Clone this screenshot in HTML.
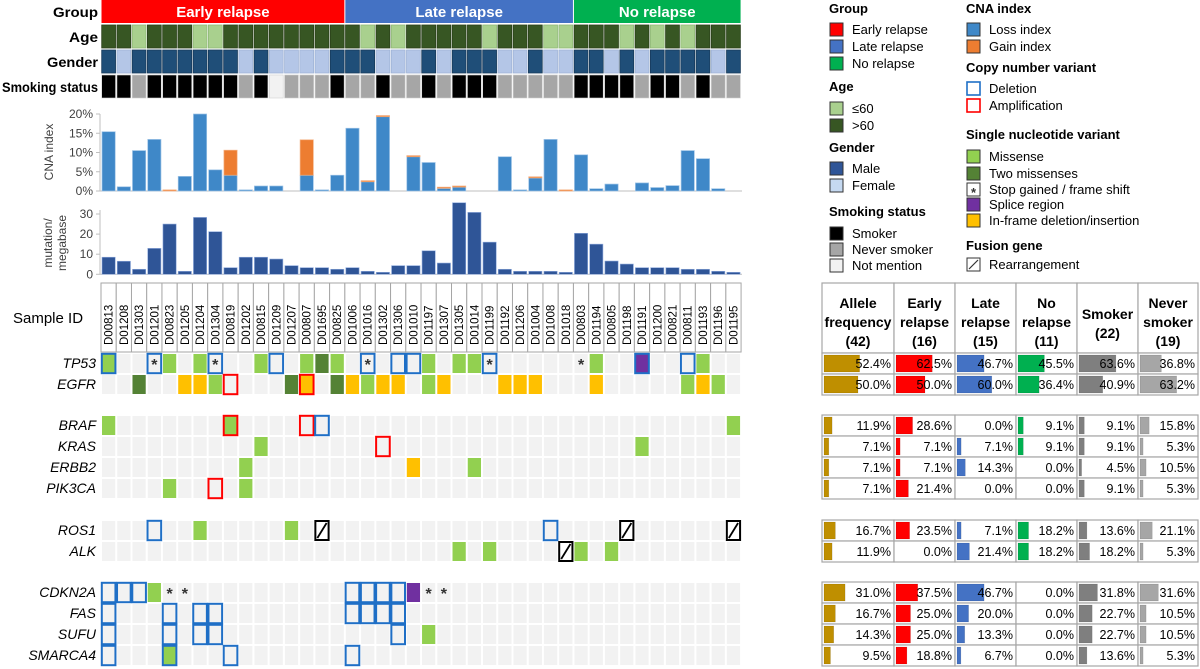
<!DOCTYPE html>
<html><head><meta charset="utf-8">
<style>
html,body{margin:0;padding:0;background:#fff;}
svg{display:block;font-family:"Liberation Sans",Calibri,sans-serif;}
</style></head>
<body>
<svg id="chart" width="1200" height="669" viewBox="0 0 1200 669" xmlns="http://www.w3.org/2000/svg"></svg>
<script>
const sampleIds = ["D00813","D01208","D01303","D01201","D00823","D01205","D01204","D01304","D00819","D01202","D00815","D01209","D01207","D00807","D01695","D00825","D01006","D01016","D01302","D01306","D01010","D01197","D01307","D01305","D01014","D01199","D01192","D01206","D01004","D01008","D01018","D00803","D01194","D00805","D01198","D01191","D01200","D00821","D00811","D01193","D01196","D01195"];
const groupNames = ["Early relapse","Late relapse","No relapse"];
const groupSizes = [16,15,11];
const ageOver60 = [1,1,0,1,1,1,0,0,1,1,1,1,1,1,1,1,1,0,1,0,1,1,1,1,1,0,1,1,1,0,0,1,1,1,0,1,0,1,0,1,1,1];
const genderMale = [1,0,1,1,1,1,1,1,1,0,1,0,0,0,0,1,1,1,0,0,0,1,0,1,1,1,0,0,1,0,0,1,1,0,1,0,1,1,1,1,0,1];
const smoking = ["S","S","N","S","S","S","S","S","S","N","S","X","N","N","N","S","N","N","S","N","N","S","N","S","S","S","N","N","N","N","N","S","S","S","S","N","S","S","N","S","N","N"];
const cnaLoss = [15.4,1.1,10.5,13.4,0,3.8,20,5.5,4.1,0.3,1.3,1.3,0,4.1,0.3,4.1,16.3,2.4,19.3,0,8.9,7.4,0.7,1.0,0,0,8.9,0.3,3.4,13.4,0,9.4,0.6,1.8,0,2.1,0.9,1.4,10.5,8.4,0.6,0];
const cnaGain = [0,0,0,0,0.3,0,0,0,6.5,0,0,0,0,9.2,0,0,0,0.3,0.3,0,0.3,0,0.3,0.3,0,0,0,0,0.3,0,0.3,0,0,0,0,0,0,0,0,0,0,0];
const mutPerMb = [8.5,6.5,2.5,12.9,25,1.5,28.3,21.2,3.3,8.5,8.5,7.6,4.3,3.3,3.3,2.5,3.3,1.5,1,4.3,4.3,11.7,5.6,35.6,30.8,16,2.5,1.5,1.5,1.5,1,20.4,15,6.6,5.1,3.3,3.3,3.3,2.5,2.5,1.5,1];
const cnaTicks = [0,5,10,15,20];
const mutTicks = [0,10,20,30];
const genes = ["TP53","EGFR","BRAF","KRAS","ERBB2","PIK3CA","ROS1","ALK","CDKN2A","FAS","SUFU","SMARCA4"];
const geneBlock = [0,0,1,1,1,1,2,2,3,3,3,3];
// m missense, d two missenses, i in-frame, s splice, x stop/frameshift, B deletion, R amplification, F rearrangement
const alterations = {
 TP53:{0:"mB",3:"xB",4:"m",6:"m",7:"xB",10:"m",11:"B",13:"m",14:"d",15:"m",17:"xB",19:"B",20:"B",21:"m",23:"m",24:"m",25:"xB",31:"x",32:"m",35:"sB",38:"B",39:"m"},
 EGFR:{2:"d",5:"i",6:"i",7:"m",8:"R",12:"d",13:"iR",15:"d",16:"i",17:"m",18:"i",19:"i",21:"m",22:"i",26:"i",27:"i",28:"i",32:"i",38:"m",39:"i",40:"m"},
 BRAF:{0:"m",8:"mR",13:"R",14:"B",41:"m"},
 KRAS:{10:"m",18:"R",35:"m"},
 ERBB2:{9:"m",20:"i",24:"m"},
 PIK3CA:{4:"m",7:"R",9:"m"},
 ROS1:{3:"B",6:"m",12:"m",14:"F",29:"B",34:"F",41:"F"},
 ALK:{23:"m",25:"m",30:"F",31:"m",33:"m"},
 CDKN2A:{0:"B",1:"B",2:"B",3:"m",4:"x",5:"x",16:"B",17:"B",18:"B",19:"B",20:"s",21:"x",22:"x"},
 FAS:{0:"B",4:"B",6:"B",7:"B",16:"B",17:"B",18:"B",19:"B"},
 SUFU:{0:"B",4:"B",6:"B",7:"B",19:"B",21:"m"},
 SMARCA4:{0:"B",4:"mB",8:"B",16:"B"}
};
const tableHeaders = [["Allele","frequency","(42)"],["Early","relapse","(16)"],["Late","relapse","(15)"],["No","relapse","(11)"],["Smoker","(22)"],["Never","smoker","(19)"]];
const freqAllele = [52.4,50.0,11.9,7.1,7.1,7.1,16.7,11.9,31.0,16.7,14.3,9.5];
const freqEarly = [62.5,50.0,28.6,7.1,7.1,21.4,23.5,0.0,37.5,25.0,25.0,18.8];
const freqLate = [46.7,60.0,0.0,7.1,14.3,0.0,7.1,21.4,46.7,20.0,13.3,6.7];
const freqNo = [45.5,36.4,9.1,9.1,0.0,0.0,18.2,18.2,0.0,0.0,0.0,0.0];
const freqSmoker = [63.6,40.9,9.1,9.1,4.5,9.1,13.6,18.2,31.8,22.7,22.7,13.6];
const freqNever = [36.8,63.2,15.8,5.3,10.5,5.3,21.1,5.3,31.6,10.5,10.5,5.3];

const NS="http://www.w3.org/2000/svg";
const svg=document.getElementById('chart');
function mk(tag,attrs,parent){const e=document.createElementNS(NS,tag);for(const k in attrs)e.setAttribute(k,attrs[k]);(parent||svg).appendChild(e);return e;}
function txt(s,attrs,parent){const e=mk('text',attrs,parent);e.textContent=s;return e;}

const X0=101, CW=15.24;
const colX=i=>X0+i*CW;
// ---- top annotation rows
const gColors=["#ff0000","#4472c4","#00b050"];
let start=0;
groupNames.forEach((g,gi)=>{
  const r=mk('rect',{x:colX(start)+0.5,y:0,width:groupSizes[gi]*CW-1,height:23,fill:gColors[gi]});
  
  
  const t=txt(g,{x:colX(start)+groupSizes[gi]*CW/2,y:17,'text-anchor':'middle','font-size':15,'font-weight':'bold',fill:'#fff'});
  
  
  start+=groupSizes[gi];
});
const rowLabels=[["Group",17,45],["Age",42,29],["Gender",67,51],["Smoking status",92,96]];
rowLabels.forEach(([l,y,w])=>{const t=txt(l,{x:98,y:y,'text-anchor':'end','font-size':13.5,'font-weight':'bold',fill:'#000',textLength:w,lengthAdjust:'spacingAndGlyphs'});
  
  });
const smokeC={S:"#000000",N:"#a6a6a6",X:"#f2f2f2"};
sampleIds.forEach((s,i)=>{
  const a=mk('rect',{x:colX(i)+0.7,y:25,width:CW-1.4,height:23,fill:ageOver60[i]?"#375623":"#a9d08e",stroke:ageOver60[i]?"#2a4019":"#8fb877","stroke-width":0.8});
  
  
  const g=mk('rect',{x:colX(i)+0.7,y:50,width:CW-1.4,height:23,fill:genderMale[i]?"#1f4e78":"#b4c6e7",stroke:genderMale[i]?"#173a5a":"#9fb3d6","stroke-width":0.8});
  
  
  const sm=mk('rect',{x:colX(i)+0.7,y:75,width:CW-1.4,height:23,fill:smokeC[smoking[i]],stroke:"#d0d0d0","stroke-width":0.6});
  
  
});
// ---- CNA chart
const cnaY=v=>191-v*3.85;
mk('line',{x1:100,y1:cnaY(0),x2:100,y2:cnaY(20),stroke:'#bfbfbf'});
cnaTicks.forEach(t=>{
  mk('line',{x1:96,y1:cnaY(t),x2:100,y2:cnaY(t),stroke:'#bfbfbf'});
  const e=txt(t+"%",{x:93,y:cnaY(t)+4,'text-anchor':'end','font-size':12,fill:'#404040'});
  
  
});
mk('line',{x1:100,y1:cnaY(0),x2:742,y2:cnaY(0),stroke:'#bfbfbf'});
const ct=txt("CNA index",{x:0,y:0,transform:"translate(53,152) rotate(-90)",'text-anchor':'middle','font-size':12,fill:'#404040'});


sampleIds.forEach((s,i)=>{
  if(cnaLoss[i]>0){const b=mk('rect',{x:colX(i)+1,y:cnaY(cnaLoss[i]),width:CW-2,height:cnaLoss[i]*3.85,fill:"#3f88c8",stroke:"#9dc3e6","stroke-width":0.7});
    
    }
  if(cnaGain[i]>0){const b=mk('rect',{x:colX(i)+1,y:cnaY(cnaLoss[i]+cnaGain[i]),width:CW-2,height:cnaGain[i]*3.85,fill:"#ed7d31",stroke:"#f4b183","stroke-width":0.7});
    
    }
});
// ---- mutation burden chart
const mY=v=>274.3-v*2.01;
mk('line',{x1:100,y1:mY(0),x2:100,y2:mY(32),stroke:'#bfbfbf'});
mutTicks.forEach(t=>{
  mk('line',{x1:96,y1:mY(t),x2:100,y2:mY(t),stroke:'#bfbfbf'});
  const e=txt(String(t),{x:93,y:mY(t)+4,'text-anchor':'end','font-size':12,fill:'#404040'});
  
  
});
mk('line',{x1:100,y1:mY(0),x2:742,y2:mY(0),stroke:'#bfbfbf'});
const mt=mk('text',{transform:"translate(52,243) rotate(-90)",'text-anchor':'middle','font-size':12,fill:'#404040'});


const ts1=mk('tspan',{x:0,dy:0},mt);ts1.textContent="mutation/";
const ts2=mk('tspan',{x:0,dy:14},mt);ts2.textContent="megabase";
sampleIds.forEach((s,i)=>{
  const b=mk('rect',{x:colX(i)+1,y:mY(mutPerMb[i]),width:CW-2,height:mutPerMb[i]*2.01,fill:"#2f5597",stroke:"#8faadc","stroke-width":0.6});
  
  
});
// ---- sample IDs
const sl=txt("Sample ID",{x:13,y:323,'font-size':15,fill:'#000'});


sampleIds.forEach((s,i)=>{
  const r=mk('rect',{x:colX(i),y:283,width:CW,height:69,fill:'#fff',stroke:'#a6a6a6','stroke-width':1});
  
  
  const t=txt(s,{transform:`translate(${colX(i)+CW/2+4},345) rotate(-90)`,'font-size':11.5,fill:'#000'});
  
  
});
// ---- gene grid
const blockTop=[353,415,520,582];
const RH=21;
const geneY=[];
let idxInBlock=[0,0,0,0];
genes.forEach((g,gi)=>{const b=geneBlock[gi];geneY.push(blockTop[b]+idxInBlock[b]*RH);idxInBlock[b]++;});
const fillC={m:"#92d050",d:"#548235",i:"#ffc000",s:"#7030a0"};
genes.forEach((g,gi)=>{
  const y=geneY[gi];
  const gl=txt(g,{x:96,y:y+15,'text-anchor':'end','font-size':14,'font-style':'italic',fill:'#000'});
  
  
  sampleIds.forEach((s,i)=>{
    const code=alterations[g][i]||"";
    let f="#f2f2f2";
    for(const c of code) if(fillC[c]) f=fillC[c];
    const c=mk('rect',{x:colX(i)+1,y:y+1,width:CW-2,height:RH-2,fill:f});
    
    
    if(code.includes("x")){const a=txt("*",{x:colX(i)+CW/2,y:y+17,'text-anchor':'middle','font-size':16,'font-weight':'bold',fill:'#333'});
      
      }
    if(code.includes("B")||code.includes("R")){const o=mk('rect',{x:colX(i)+0.8,y:y+0.8,width:CW-1.6,height:RH-1.6,fill:'none',stroke:code.includes("B")?"#1f6fc6":"#ff0000",'stroke-width':2});
      
      }
    if(code.includes("F")){const o=mk('rect',{x:colX(i)+1,y:y+1,width:CW-2,height:RH-2,fill:'#fff',stroke:'#000','stroke-width':2});
      
      
      mk('line',{x1:colX(i)+3,y1:y+RH-3,x2:colX(i)+CW-3,y2:y+3,stroke:'#000','stroke-width':1.8});}
  });
});
// ---- frequency table
const tColX=[822,894,955,1016,1077,1138,1198];
const freqCols=[freqAllele,freqEarly,freqLate,freqNo,freqSmoker,freqNever];
const barC=["#bf8f00","#ff0000","#4472c4","#00b050","#7f7f7f","#a6a6a6"];
const barScale=[0.68,0.58,0.58,0.58,0.58,0.58];
tableHeaders.forEach((h,k)=>{
  const r=mk('rect',{x:tColX[k],y:283,width:tColX[k+1]-tColX[k],height:70,fill:'#fff',stroke:'#a6a6a6','stroke-width':1.2});
  
  
  const cx=(tColX[k]+tColX[k+1])/2;
  const y0=h.length===3?308:319;
  h.forEach((line,li)=>{const t=txt(line,{x:cx,y:y0+li*19,'text-anchor':'middle','font-size':14,'font-weight':'bold',fill:'#000'});
    
    });
});
genes.forEach((g,gi)=>{
  const y=geneY[gi];
  freqCols.forEach((arr,k)=>{
    const x=tColX[k], w=tColX[k+1]-tColX[k];
    const cell=mk('rect',{x:x,y:y,width:w,height:RH,fill:'#fff',stroke:'#a6a6a6','stroke-width':1.2});
    
    
    if(arr[gi]>0){const b=mk('rect',{x:x+2,y:y+2,width:arr[gi]*barScale[k],height:RH-4,fill:barC[k],stroke:'rgba(0,0,0,0.15)','stroke-width':0.6});
      
      }
    const t=txt(arr[gi].toFixed(1)+"%",{x:x+w-3,y:y+15,'text-anchor':'end','font-size':12.5,fill:'#000'});
    
    
  });
});
// ---- legend
function legTitle(s,x,y){const t=txt(s,{x:x,y:y,'font-size':13,'font-weight':'bold',fill:'#000'});
  
  }
function legItem(s,x,y,fill,stroke,extra){
  const r=mk('rect',{x:x,y:y-11,width:13,height:13,fill:fill,stroke:stroke,'stroke-width':stroke==='#333'?1:1.6});
  
  
  if(extra==='star') txt("*",{x:x+6.5,y:y+3,'text-anchor':'middle','font-size':13,'font-weight':'bold',fill:'#333'});
  if(extra==='slash') mk('line',{x1:x+2,y1:y,x2:x+11,y2:y-9,stroke:'#333','stroke-width':1.2});
  const t=txt(s,{x:x+22,y:y,'font-size':13,fill:'#000'});
  
  
}
const LX=830, RX=967;
legTitle("Group",829,13);
legItem("Early relapse",LX,34,"#ff0000","#333");
legItem("Late relapse",LX,51,"#4472c4","#333");
legItem("No relapse",LX,68,"#00b050","#333");
legTitle("Age",829,91);
legItem("≤60",LX,113,"#a9d08e","#333");
legItem(">60",LX,130,"#375623","#333");
legTitle("Gender",829,152);
legItem("Male",LX,173,"#2f5597","#333");
legItem("Female",LX,190,"#c5d9f1","#333");
legTitle("Smoking status",829,216);
legItem("Smoker",LX,238,"#000000","#333");
legItem("Never smoker",LX,254,"#a6a6a6","#333");
legItem("Not mention",LX,270,"#f2f2f2","#333");
legTitle("CNA index",966,13);
legItem("Loss index",RX,34,"#3f88c8","#333");
legItem("Gain index",RX,51,"#ed7d31","#333");
legTitle("Copy number variant",966,72);
legItem("Deletion",RX,93,"#fff","#1f6fc6");
legItem("Amplification",RX,110,"#fff","#ff0000");
legTitle("Single nucleotide variant",966,139);
legItem("Missense",RX,161,"#92d050","#333");
legItem("Two missenses",RX,178,"#548235","#333");
legItem("Stop gained / frame shift",RX,194,"#fff","#333",'star');
legItem("Splice region",RX,209,"#7030a0","#333");
legItem("In-frame deletion/insertion",RX,225,"#ffc000","#333");
legTitle("Fusion gene",966,250);
legItem("Rearrangement",RX,269,"#fff","#333",'slash');
</script>
</body></html>
